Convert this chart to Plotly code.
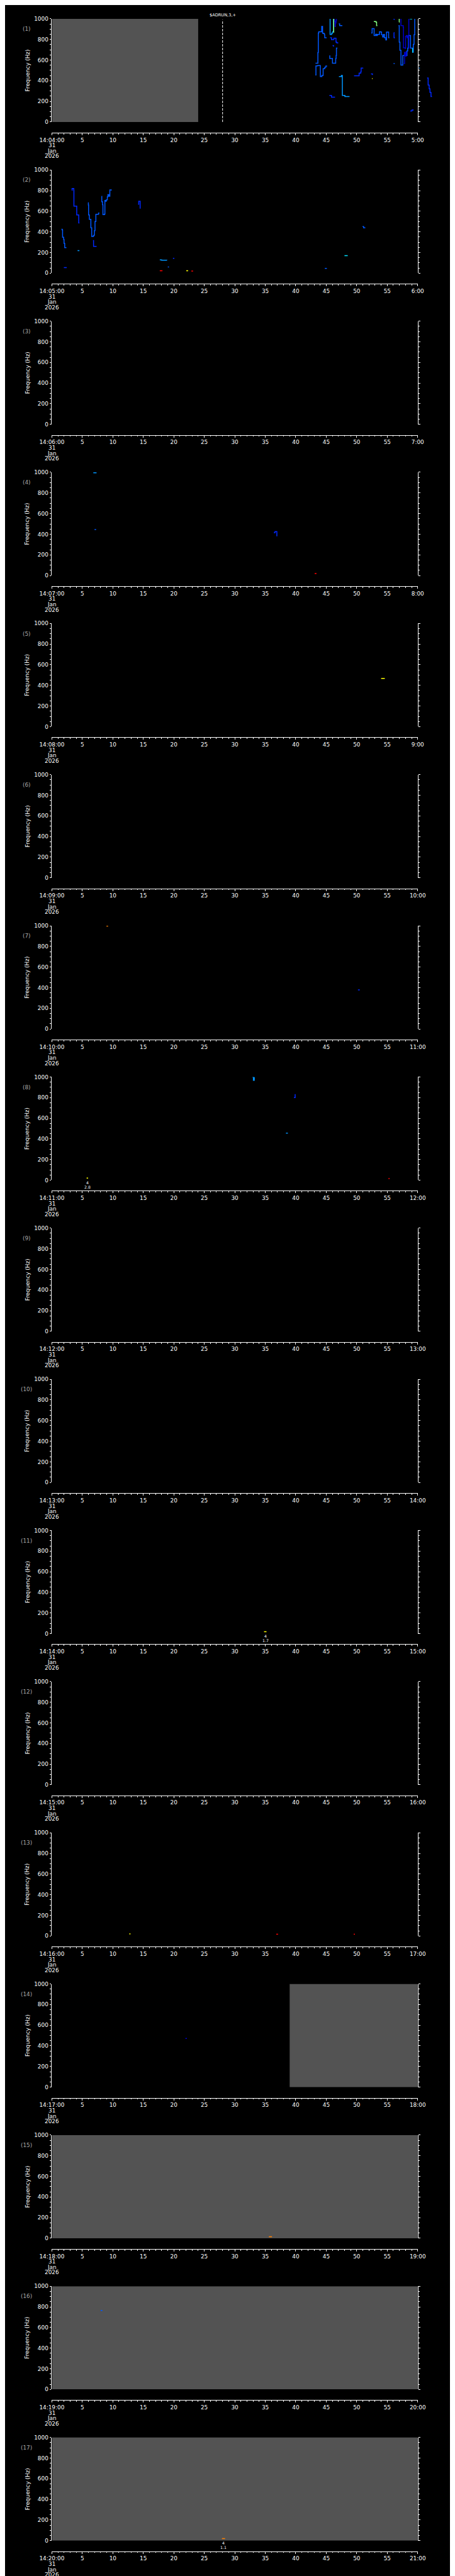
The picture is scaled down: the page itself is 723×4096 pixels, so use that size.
import plotly.graph_objects as go

# ---------------- data ----------------
panel_start_labels = ["14:04:00", "14:05:00", "14:06:00", "14:07:00", "14:08:00", "14:09:00",
                      "14:10:00", "14:11:00", "14:12:00", "14:13:00", "14:14:00", "14:15:00",
                      "14:16:00", "14:17:00", "14:18:00", "14:19:00", "14:20:00"]
panel_end_labels = ["5:00", "6:00", "7:00", "8:00", "9:00", "10:00", "11:00", "12:00", "13:00",
                    "14:00", "15:00", "16:00", "17:00", "18:00", "19:00", "20:00", "21:00"]
date_lines = ["31", "Jan", "2026"]
x_tick_seconds = [0, 5, 10, 15, 20, 25, 30, 35, 40, 45, 50, 55, 60]
x_inner_labels = ["5", "10", "15", "20", "25", "30", "35", "40", "45", "50", "55"]
y_tick_values = [0, 200, 400, 600, 800, 1000]

# intervals without data (grey)
nodata_panel = [1, 14, 15, 16, 17]
nodata_start = [0, 39.0, 0, 0, 0]
nodata_end = [24.0, 60, 60, 60, 60]

# spectral tracks: panel, times (s), frequency (Hz), intensity level
track_panel = []
track_t = []
track_f = []
track_level = []

def add(p, t, f, lev):
    track_panel.append(p); track_t.append(t); track_f.append(f); track_level.append(lev)

# panel 1
add(1, [43.22, 43.31, 43.59, 43.91, 44.03, 44.28, 44.38, 44.49, 44.75, 44.93, 45.07],
       [456, 544, 547, 547, 441, 451, 451, 516, 530, 542, 547], 3)
add(1, [43.24, 43.59, 43.63, 43.70, 43.77, 44.24, 44.26, 44.40, 44.51, 44.70, 44.75, 45.0],
       [570, 570, 673, 862, 874, 874, 926, 860, 857, 845, 817, 819], 3)
add(1, [45.58, 45.63, 45.81, 45.90, 46.04, 46.16, 46.20], [1000, 848, 848, 860, 874, 874, 1000], 4)
add(1, [46.27, 46.37, 46.44, 46.50, 46.60, 46.67], [1000, 977, 924, 960, 981, 1000], 1)
add(1, [46.18, 46.22], [870, 1000], 6)
add(1, [45.63, 45.81, 45.86, 46.20, 46.25, 46.55, 46.60, 46.74, 46.90],
       [817, 817, 798, 798, 812, 812, 774, 766, 762], 2)
add(1, [45.51, 45.58, 46.02, 46.55, 46.62, 46.67, 46.83], [642, 616, 570, 616, 645, 716, 716], 3)
add(1, [46.04, 46.20], [741, 731], 2)
add(1, [47.06, 47.20, 47.64], [950, 934, 934], 3)
add(1, [47.08, 47.48, 47.64, 48.06, 48.82], [441, 451, 258, 246, 246], 4)
add(1, [45.51, 45.86, 46.44], [258, 241, 241], 2)
add(1, [49.56, 50.30, 50.39, 50.67, 50.72, 51.00], [448, 448, 473, 487, 523, 526], 2)
add(1, [52.34, 52.57], [466, 456], 2)
add(1, [52.50, 52.60], [421, 421], 7)
add(1, [52.80, 53.15, 53.26, 53.38], [974, 967, 934, 934], 6)
add(1, [52.38, 52.52, 52.80, 52.85, 53.03, 53.10, 53.26, 53.38, 53.73, 53.96, 54.07, 54.24, 54.42,
        54.54, 54.77, 54.88, 55.16, 55.23, 55.35],
       [862, 905, 905, 838, 838, 850, 838, 848, 874, 871, 845, 824, 848, 817, 795, 871, 871, 817, 817], 3)
add(1, [56.00, 56.16], [1000, 990], 2)
add(1, [56.09, 56.11, 56.16], [867, 820, 810], 2)
add(1, [56.04, 56.16], [566, 570], 3)
add(1, [56.85, 56.97, 57.08, 57.20, 57.25, 57.48, 57.55, 57.89, 58.13, 58.24, 58.36, 58.47, 58.70,
        58.82, 59.05, 59.17, 59.28, 59.40, 59.51],
       [934, 774, 695, 695, 552, 552, 645, 673, 645, 688, 716, 838, 838, 716, 716, 676, 752, 845, 1000], 3)
add(1, [56.95, 56.97], [967, 1000], 6)
add(1, [57.15, 57.25, 57.48, 57.62, 57.66, 57.94, 58.01, 58.13, 58.24, 58.36],
       [1000, 934, 934, 917, 719, 713, 831, 838, 817, 838], 1)
add(1, [58.47, 58.54, 58.60], [716, 1000, 1000], 1)
add(1, [57.71, 57.85, 58.01, 58.13], [566, 673, 638, 688], 1)
add(1, [58.70, 59.10], [1000, 1000], 5)
add(1, [59.10, 59.17], [676, 716], 5)
add(1, [58.77, 59.05, 59.24], [107, 115, 122], 2)
# panel 1, drawn past the right edge of the frame
add(0, [60.21, 60.35], [523, 523], 4)
add(0, [61.55, 61.71, 61.88, 62.01, 62.18, 62.34], [427, 358, 322, 287, 246, 246], 2)
# panel 2
add(2, [1.58, 1.69, 1.76, 1.93, 2.00, 2.11, 2.39], [426, 419, 348, 326, 288, 248, 248], 3)
add(2, [1.97, 2.44], [54, 54], 2)
add(2, [3.27, 3.32, 3.60, 3.62, 4.08, 4.41, 4.52], [803, 820, 803, 650, 564, 487, 487], 2)
add(2, [4.22, 4.52], [219, 219], 4)
add(2, [5.92, 5.99, 6.03, 6.15, 6.40, 6.54, 6.80, 6.91, 6.98, 7.08, 7.22, 7.56, 7.66, 7.80],
       [682, 661, 564, 521, 440, 355, 362, 369, 412, 501, 571, 571, 583, 583], 3)
add(2, [6.75, 6.84, 7.26], [316, 259, 255], 2)
add(2, [8.14, 8.19, 8.31, 8.38, 8.65, 8.70, 8.82, 8.93, 9.10, 9.19, 9.35, 9.51, 9.74],
       [744, 692, 664, 568, 573, 704, 697, 711, 739, 761, 746, 806, 801], 3)
add(2, [14.15, 14.25, 14.45, 14.48], [668, 697, 697, 625], 2)
add(2, [17.70, 18.0, 18.85], [128, 126, 124], 4)
add(2, [19.02, 19.21], [60, 60], 3)
add(2, [19.86, 20.09], [144, 144], 2)
add(2, [17.70, 18.14], [24, 24], 9)
add(2, [22.04, 22.35], [24, 24], 7)
add(2, [22.88, 23.16], [20, 20], 9)
add(2, [50.95, 51.13, 51.41], [452, 440, 440], 3)
add(2, [47.99, 48.52], [170, 170], 5)
add(2, [44.77, 45.10], [46, 46], 3)
# panel 4
add(4, [6.8, 7.33], [995, 995], 4)
add(4, [7.0, 7.26], [445, 445], 3)
add(4, [36.4, 36.6, 36.9], [415, 426, 380], 2)
add(4, [43.1, 43.4], [19, 19], 9)
# panel 5
add(5, [54.0, 54.6], [467, 467], 7)
# panel 7
add(7, [8.96, 9.22], [997, 997], 8)
add(7, [50.2, 50.5], [379, 379], 2)
# panel 8
add(8, [32.9, 33.05, 33.2], [999, 968, 999], 4)
add(8, [39.7, 39.9], [800, 834], 2)
add(8, [38.4, 38.7], [455, 455], 4)
add(8, [5.7, 5.95], [19, 19], 7)
add(8, [55.2, 55.4], [15, 15], 9)
# panel 11
add(11, [34.8, 35.2], [19, 19], 7)
# panel 13
add(13, [12.7, 12.9], [20, 20], 7)
add(13, [36.8, 37.1], [17, 17], 9)
add(13, [49.5, 49.7], [17, 17], 9)
# panel 14
add(14, [21.9, 22.15], [472, 472], 1)
# panel 15
add(15, [35.6, 36.1], [15, 15], 8)
# panel 16
add(16, [8.0, 8.3], [766, 766], 3)
# panel 17
add(17, [27.9, 28.4], [19, 19], 8)

# labelled events
event_panel = [8, 11, 17]
event_time = [5.85, 35.0, 28.15]
event_line1 = ["4", "4", "4"]
event_line2 = ["2.8", "1.7", "1.1"]

# run marker in panel 1
marker_time = 28.0
marker_text = "$ADRUN,3,+"

# ---------------- styling / geometry (reference pixel units) ----------------
W, H = 1024.0, 5802.0
PL, PR = 80.7, 943.5
TOP0, PITCH, PH, AXOFF = 24.0, 341.3, 233.0, 257.0
FONT = "DejaVu Sans"
FS = 8.9
level_colors = {1: "#0000c8", 2: "#0028ff", 3: "#0058ff", 4: "#0096ff", 5: "#00e0ff",
                6: "#80ff80", 7: "#ffff00", 8: "#ff8000", 9: "#ff0000"}
GREY = "#535353"


def fx(x):
    return x / W


def fy(y):
    return 1 - y / H


def top(k):
    return TOP0 + (k - 1) * PITCH


fig = go.Figure()
layout = dict(width=723, height=4096, margin=dict(l=0, r=0, t=0, b=0),
              paper_bgcolor="black", plot_bgcolor="black", showlegend=False,
              font=dict(family=FONT, color="white", size=FS))
annotations = []

for k in range(1, 18):
    sfx = "" if k == 1 else str(k)
    t0 = top(k)
    ticktext = [panel_start_labels[k - 1]] + x_inner_labels + [panel_end_labels[k - 1]]
    layout["xaxis" + sfx] = dict(
        domain=[fx(PL), fx(PR)], range=[0, 60], anchor="free", position=fy(t0 + AXOFF),
        showline=True, linecolor="white", linewidth=1, showgrid=False, zeroline=False,
        ticks="outside", ticklen=3, tickwidth=1, tickcolor="white",
        tickmode="array", tickvals=x_tick_seconds, ticktext=ticktext,
        tickfont=dict(family=FONT, size=FS, color="white"),
        minor=dict(tickmode="linear", tick0=0, dtick=1, ticks="outside", ticklen=1.8,
                   tickwidth=1, tickcolor="white", showgrid=False),
        fixedrange=True)
    layout["yaxis" + sfx] = dict(
        domain=[fy(t0 + PH), fy(t0)], range=[0, 1000], anchor="x" + sfx,
        showline=True, mirror="ticks", linecolor="white", linewidth=1, showgrid=False,
        zeroline=False, ticks="outside", ticklen=2.8, tickwidth=1, tickcolor="white",
        tickmode="array", tickvals=y_tick_values,
        tickfont=dict(family=FONT, size=FS, color="white"),
        minor=dict(tickmode="linear", tick0=0, dtick=50, ticks="outside", ticklen=2,
                   tickwidth=1, tickcolor="white", showgrid=False),
        fixedrange=True)
    # make sure every panel gets its frame, even when empty
    fig.add_trace(go.Scatter(x=[], y=[], mode="lines", xaxis="x" + sfx, yaxis="y" + sfx,
                             hoverinfo="skip"))
    # panel number
    annotations.append(dict(text="(%d)" % k, x=fx(21), y=fy(t0 + 23), xref="paper", yref="paper",
                            showarrow=False, xanchor="center", yanchor="middle",
                            font=dict(family=FONT, size=FS, color="#a8a8a8")))
    # axis title
    annotations.append(dict(text="Frequency (Hz)", x=fx(23), y=fy(t0 + PH / 2), xref="paper",
                            yref="paper", showarrow=False, textangle=-90, xanchor="center",
                            yanchor="middle", font=dict(family=FONT, size=FS, color="white")))
    # date lines under the first tick label
    for i, line in enumerate(date_lines):
        annotations.append(dict(text=line, x=fx(PL), y=fy(t0 + 286 + 12.2 * i), xref="paper",
                                yref="paper", showarrow=False, xanchor="center", yanchor="middle",
                                font=dict(family=FONT, size=FS, color="white")))

# overflow axes for panel 1 (tracks drawn past the frame)
over_w = 1000.0 - PR
layout["xaxis18"] = dict(domain=[fx(PR), fx(1000)], range=[60, 60 + over_w / (PR - PL) * 60],
                         anchor="y18", visible=False, fixedrange=True)
layout["yaxis18"] = dict(domain=[fy(TOP0 + PH), fy(TOP0)], range=[0, 1000], anchor="x18",
                         visible=False, fixedrange=True)

# grey no-data blocks
for p, s, e in zip(nodata_panel, nodata_start, nodata_end):
    sfx = "" if p == 1 else str(p)
    fig.add_trace(go.Scatter(x=[s, e, e, s, s], y=[0, 0, 1000, 1000, 0], mode="lines",
                             fill="toself", fillcolor=GREY, line=dict(width=0, color=GREY),
                             xaxis="x" + sfx, yaxis="y" + sfx, hoverinfo="skip"))

# spectral tracks
for p, t, f, lev in zip(track_panel, track_t, track_f, track_level):
    if p == 0:
        xa, ya = "x18", "y18"
    else:
        sfx = "" if p == 1 else str(p)
        xa, ya = "x" + sfx, "y" + sfx
    fig.add_trace(go.Scatter(x=t, y=f, mode="lines", line=dict(shape="hv", width=1.5,
                                                                color=level_colors[lev]),
                             xaxis=xa, yaxis=ya, hoverinfo="skip"))

# run marker line in panel 1
fig.add_trace(go.Scatter(x=[marker_time, marker_time], y=[0, 990], mode="lines",
                         line=dict(color="white", width=1, dash="4px,2px"),
                         xaxis="x", yaxis="y", hoverinfo="skip"))
annotations.append(dict(text=marker_text, x=marker_time, xref="x", y=fy(15.5), yref="paper",
                        showarrow=False, xanchor="center", yanchor="middle",
                        font=dict(family=FONT, size=6.6, color="white")))

# event labels
for p, t, l1, l2 in zip(event_panel, event_time, event_line1, event_line2):
    sfx = "" if p == 1 else str(p)
    b = top(p) + PH
    annotations.append(dict(text=l1, x=t, xref="x" + sfx, y=fy(b + 5.5), yref="paper",
                            showarrow=False, xanchor="center", yanchor="middle",
                            font=dict(family=FONT, size=6.2, color="white")))
    annotations.append(dict(text=l2, x=t, xref="x" + sfx, y=fy(b + 15), yref="paper",
                            showarrow=False, xanchor="center", yanchor="middle",
                            font=dict(family=FONT, size=6.2, color="white")))

layout["annotations"] = annotations
fig.update_layout(**layout)
fig.write_html("out.html")
